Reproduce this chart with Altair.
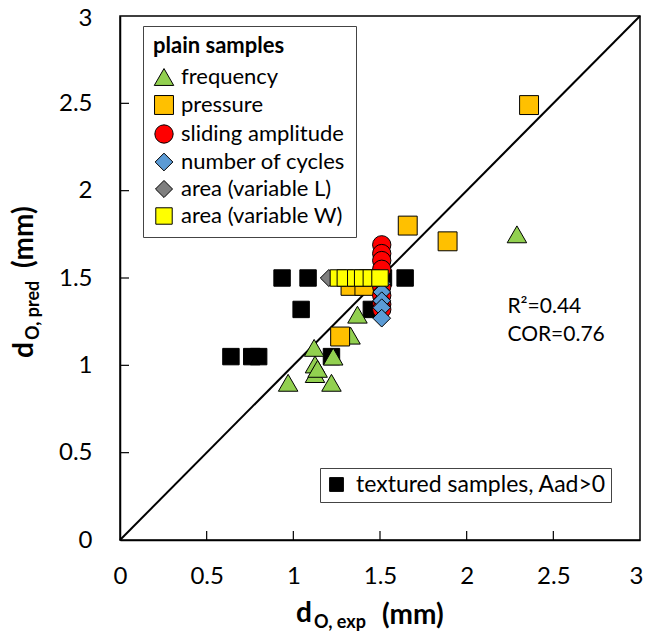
import altair as alt
import pandas as pd

# ---------------- data ----------------
cats = ["frequency", "pressure", "sliding amplitude", "number of cycles",
        "area (variable L)", "area (variable W)"]
cat_colors = ["#92d050", "#ffc000", "#ff0000", "#5b9bd5", "#7f7f7f", "#ffff00"]
cat_shapes = ["triangle-up", "square", "circle", "diamond", "diamond", "square"]
cat_sizes = [380, 270, 420, 300, 320, 270]

freq_x = [2.29, 1.37, 1.33, 1.12, 1.23, 1.125, 1.125, 1.14, 0.97, 1.22]
freq_y = [1.75, 1.29, 1.17, 1.10, 1.05, 1.005, 0.95, 0.98, 0.90, 0.90]

press_x = [2.36, 1.66, 1.89, 1.27, 1.33, 1.41]
press_y = [2.49, 1.80, 1.71, 1.165, 1.455, 1.455]

slide_x = [1.51, 1.51, 1.51, 1.51, 1.51, 1.51, 1.51, 1.51]
slide_y = [1.69, 1.64, 1.60, 1.55, 1.45, 1.40, 1.35, 1.32]

cyc_x = [1.51, 1.51, 1.51, 1.51, 1.51]
cyc_y = [1.47, 1.42, 1.37, 1.33, 1.27]

areaL_x = [1.205]
areaL_y = [1.50]

areaW_x = [1.26, 1.30, 1.36, 1.40, 1.45, 1.50]
areaW_y = [1.50, 1.50, 1.50, 1.50, 1.50, 1.50]

tex_label = "textured samples, Aad>0"
tex_x = [0.935, 1.085, 1.045, 0.64, 0.76, 0.80, 1.22, 1.45, 1.645, 1.43, 1.52]
tex_y = [1.50, 1.50, 1.32, 1.05, 1.05, 1.05, 1.05, 1.32, 1.50, 1.50, 1.50]

tick_vals = [0, 0.5, 1, 1.5, 2, 2.5, 3]
inner_ticks = [0.5, 1, 1.5, 2, 2.5]

r2_text = "R²=0.44"
cor_text = "COR=0.76"

# ---------------- tables ----------------
rows = []
for c, xs, ys in zip(cats,
                     [freq_x, press_x, slide_x, cyc_x, areaL_x, areaW_x],
                     [freq_y, press_y, slide_y, cyc_y, areaL_y, areaW_y]):
    for xv, yv in zip(xs, ys):
        rows.append({"cat": c, "x": xv, "y": yv})
plain = pd.DataFrame(rows)
tex = pd.DataFrame({"lab": [tex_label] * len(tex_x), "x": tex_x, "y": tex_y})
diag = pd.DataFrame({"x": [0, 3], "y": [0, 3]})
ticks_df = pd.DataFrame({"v": inner_ticks})
ann = pd.DataFrame({"t": [r2_text, cor_text], "x": [2.235, 2.235], "y": [1.30, 1.14]})

FONT = "Lato"
W, H = 520, 524
TOP = 8
TICK_FS = 24

x_axis = alt.Axis(values=tick_vals, title=None, ticks=False, tickSize=0, grid=False,
                  labelFontSize=TICK_FS, labelFont=FONT, labelColor="black", labelPadding=24,
                  labelFlush=False, labelOverlap=False, format="~g",
                  labelOffset={"condition": {"test": "datum.value == 3", "value": -4},
                               "value": 0},
                  domainColor="black", domainWidth=1.5)
y_axis = alt.Axis(values=tick_vals, title=None, ticks=False, tickSize=0, grid=False,
                  labelFontSize=TICK_FS, labelFont=FONT, labelColor="black", labelPadding=28,
                  labelFlush=False, labelOverlap=False, format="~g",
                  labelOffset={"condition": {"test": "datum.value == 3", "value": 2},
                               "value": 0},
                  domainColor="black", domainWidth=1.5)
xs_ = alt.Scale(domain=[0, 3], nice=False, zero=False)
ys_ = alt.Scale(domain=[0, 3], nice=False, zero=False)


def X(f):
    return alt.X(f, type="quantitative", scale=xs_, axis=x_axis)


def Y(f):
    return alt.Y(f, type="quantitative", scale=ys_, axis=y_axis)


line = alt.Chart(diag).mark_line(color="black", strokeWidth=2).encode(x=X("x"), y=Y("y"))

xt = alt.Chart(ticks_df).mark_rule(color="black", strokeWidth=1.2).encode(
    x=X("v"), y=alt.value(H), y2=alt.value(H - 9))
yt = alt.Chart(ticks_df).mark_rule(color="black", strokeWidth=1.2).encode(
    y=Y("v"), x=alt.value(0), x2=alt.value(9))

textured = alt.Chart(tex).mark_point(filled=True, shape="square", size=270, stroke="black",
                                     strokeWidth=1, opacity=1).encode(
    x=X("x"), y=Y("y"),
    color=alt.Color("lab:N", scale=alt.Scale(domain=[tex_label], range=["black"]),
                    legend=alt.Legend(title=None, orient="none", legendX=200,
                                      legendY=468 - 8 - TOP,
                                      symbolType="square", symbolSize=190,
                                      labelFontSize=23, labelFont=FONT, labelColor="black",
                                      labelLimit=500,
                                      strokeColor="#444444", fillColor="white",
                                      padding=5, labelOffset=8,
                                      symbolStrokeColor="black", symbolStrokeWidth=1)))

leg = alt.Legend(title="plain samples", orient="none", legendX=23, legendY=26 - 8 - TOP,
                 titleFontSize=22, titleFont=FONT, titleFontWeight="bold", titleColor="black",
                 titlePadding=8, labelFontSize=22, labelFont=FONT, labelColor="black",
                 labelLimit=500,
                 symbolSize=180, rowPadding=5, labelOffset=6,
                 strokeColor="#444444", fillColor="white", padding=10,
                 symbolStrokeColor="black", symbolStrokeWidth=1)

plain_ch = alt.Chart(plain).mark_point(filled=True, stroke="black", strokeWidth=1,
                                       opacity=1).encode(
    x=X("x"), y=Y("y"),
    color=alt.Color("cat:N", scale=alt.Scale(domain=cats, range=cat_colors), legend=leg),
    shape=alt.Shape("cat:N", scale=alt.Scale(domain=cats, range=cat_shapes), legend=leg),
    size=alt.Size("cat:N", scale=alt.Scale(domain=cats, range=cat_sizes), legend=None),
)

ann_ch = alt.Chart(ann).mark_text(align="left", baseline="alphabetic", font=FONT,
                                  fontSize=21, color="black").encode(
    x=X("x"), y=Y("y"), text="t:N")


def txt(s, px, py, size, angle=0):
    # px, py are given in page pixels of the reference; convert to plot offsets
    return alt.Chart(pd.DataFrame({"t": [s]})).mark_text(
        align="left", baseline="alphabetic", font=FONT, fontSize=size,
        fontWeight="bold", color="black", angle=angle).encode(
        text="t:N", x=alt.value(px - 120), y=alt.value(py - 8 - TOP))


titles = [
    txt("d", 296, 622, 28),
    txt("O, exp", 314, 628, 18),
    txt("(mm)", 382, 624, 28),
    txt("d", 33, 358, 28, 270),
    txt("O, pred", 39, 340, 18, 270),
    txt("(mm)", 33, 268, 28, 270),
]

chart = alt.layer(line, xt, yt, textured, plain_ch, ann_ch, *titles).resolve_scale(
    color="independent", shape="independent", size="independent"
).properties(
    width=W, height=H,
    autosize=alt.AutoSizeParams(type="none"),
    padding={"left": 112, "top": TOP, "right": 4, "bottom": 92},
).configure_view(stroke="black", strokeWidth=1.5)

chart.save("out.html", embed_options={"renderer": "svg", "actions": False})
